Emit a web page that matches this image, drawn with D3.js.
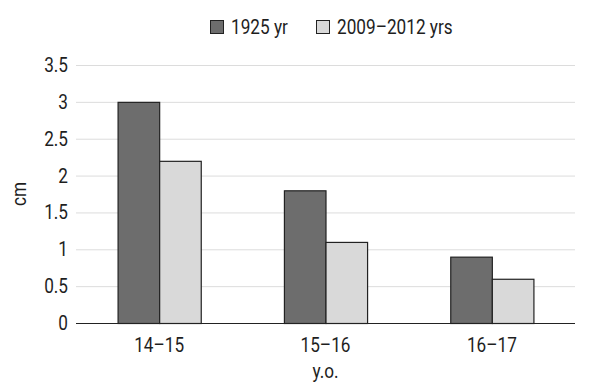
<!DOCTYPE html>
<html><head><meta charset="utf-8">
<script src="https://cdn.jsdelivr.net/npm/d3@7"></script>
<style>
body{margin:0;background:#fff;}
text{font-family:"Roboto","DejaVu Sans Condensed",sans-serif;fill:#1e1e1e;font-size:20px;}
</style></head><body>
<svg id="c" width="590" height="392"></svg>
<script>
const categories = ["14–15","15–16","16–17"];
const seriesNames = ["1925 yr","2009–2012 yrs"];
const values1925 = [3.0, 1.8, 0.9];
const values2009 = [2.2, 1.1, 0.6];
const yTicks = [0,0.5,1,1.5,2,2.5,3,3.5];
const colors = ["#6d6d6d","#d9d9d9"];

const SX = 0.86;
const svg = d3.select("#c");
const m = {l:76, r:15, t:65, b:69};
const W = 590, H = 392;
const x = d3.scaleBand().domain(categories).range([m.l, W-m.r]).paddingInner(0.5).paddingOuter(0.25);
const xs = d3.scaleBand().domain(seriesNames).range([0, x.bandwidth()]);
const y = d3.scaleLinear().domain([0,3.5]).range([H-m.b, m.t]);

function label(sel, tx, ty, anchor){
  return sel.attr("transform", (d,i)=>`translate(${tx(d,i)},${ty(d,i)}) scale(${SX},1)`)
    .attr("text-anchor", anchor).attr("dy","0.35em");
}

// gridlines
svg.append("g").selectAll("line").data(yTicks.filter(d=>d>0)).join("line")
  .attr("x1", m.l).attr("x2", W-m.r)
  .attr("y1", d=>y(d)+0.5).attr("y2", d=>y(d)+0.5)
  .attr("stroke", "#dcdcdc").attr("stroke-width", 1);

// y tick labels
label(svg.append("g").selectAll("text").data(yTicks).join("text").text(d=>d),
  ()=>m.l-8, d=>y(d), "end");

const data = categories.map((c,i)=>({c, vals:[values1925[i], values2009[i]]}));
const g = svg.append("g").selectAll("g").data(data).join("g")
  .attr("transform", d=>`translate(${x(d.c)},0)`);
g.selectAll("rect").data(d=>d.vals.map((v,j)=>({v, s:seriesNames[j], j}))).join("rect")
  .attr("x", d=>xs(d.s)+0.5).attr("width", xs.bandwidth())
  .attr("y", d=>y(d.v)+0.5).attr("height", d=>y(0)-y(d.v))
  .attr("fill", d=>colors[d.j]).attr("stroke","#222").attr("stroke-width",1.2);

// baseline
svg.append("line").attr("x1", m.l).attr("x2", W-m.r).attr("y1", y(0)+0.5).attr("y2", y(0)+0.5)
  .attr("stroke","#222").attr("stroke-width",1.2);

// x labels
label(svg.append("g").selectAll("text").data(categories).join("text").text(d=>d),
  d=>x(d)+x.bandwidth()/2, ()=>y(0)+21.5, "middle");

label(svg.append("text").datum(0).text("y.o."), ()=> (m.l+W-m.r)/2, ()=>371, "middle");
svg.append("text").text("cm").attr("text-anchor","middle").attr("dy","0.35em")
  .attr("transform",`translate(19,${(m.t+H-m.b)/2}) rotate(-90) scale(${SX},1)`);

// legend
const lx = [210, 316];
const leg = svg.append("g").selectAll("g").data(seriesNames).join("g")
  .attr("transform",(d,i)=>`translate(${lx[i]},20)`);
leg.append("rect").attr("x",0.5).attr("y",0.5).attr("width",13).attr("height",13)
  .attr("fill",(d,i)=>colors[i]).attr("stroke","#222");
leg.append("text").text(d=>d).attr("text-anchor","start").attr("dy","0.35em")
  .attr("transform",`translate(21,7) scale(${SX},1)`);
</script></body></html>
